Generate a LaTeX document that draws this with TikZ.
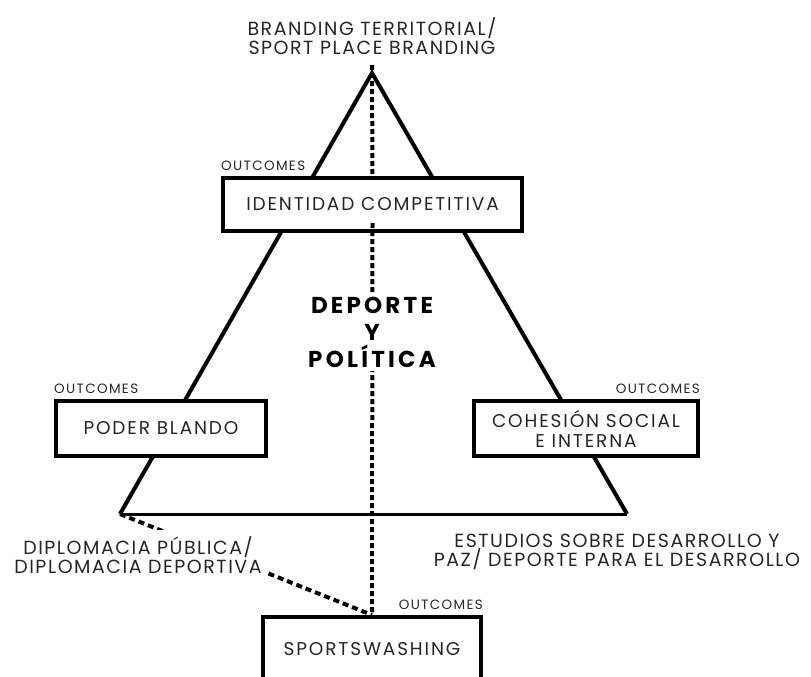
\documentclass[tikz,border=0pt]{standalone}
\usepackage{fontspec}
\setmainfont{Poppins}
\newfontfamily\wideface[LetterSpace=8]{Poppins}
\newfontfamily\boxface[LetterSpace=10]{Poppins}
\newfontfamily\widebold[LetterSpace=14]{Poppins Bold}
\usetikzlibrary{positioning}
\tikzset{
    outbox/.style={
        draw,
        line width=4pt,
        fill=white,
        align=center,
        inner sep=2pt,
        text=black!85,
        font=\boxface\fontsize{18.5}{20}\selectfont
    },
    outlabel/.style={
        inner sep=0pt,
        text=black!85,
        font=\boxface\fontsize{13.5}{14}\selectfont
    },
    field/.style={
        align=center,
        inner sep=2pt,
        text=black!85,
        font=\wideface\fontsize{19}{19}\selectfont
    },
    dotline/.style={
        line width=4pt,
        dash pattern=on 5pt off 3pt
    }
}

\begin{document}
\begin{tikzpicture}[x=1pt, y=-1pt]
  \useasboundingbox (0,0) rectangle (811,677);
  \clip (0,0) rectangle (811,677);

  % triangle corners
  \coordinate (apex) at (372,73);
  \coordinate (left) at (120,514);
  \coordinate (right) at (627,514);

  % triangle
  \draw[line width=4pt, line join=miter] (left) -- (apex) -- (right);
  \draw[line width=3pt] (left) -- (right);

  % outcome boxes
  \node[outbox, minimum width=299pt, minimum height=53pt] (identidad) at (372.5,204.5) {IDENTIDAD COMPETITIVA};
  \node[outbox, minimum width=210pt, minimum height=55pt] (poder) at (161,428.5) {PODER BLANDO};
  \node[outbox, minimum width=224pt, minimum height=55pt] (cohesion) at (586,428.5) {COHESIÓN SOCIAL\\E INTERNA};
  \node[outbox, minimum width=218pt, minimum height=64pt] (sports) at (372,649) {SPORTSWASHING};

  % dotted lines
  \draw[dotline] ([yshift=8pt]apex) -- (identidad.north);
  \draw[dotline] ([yshift=10pt]identidad.south) -- (sports.north);
  \draw[dotline, dash pattern=on 6pt off 4pt] (left) -- (sports.north);

  % labels
  \node[fill=white, inner sep=4pt, align=center, font=\widebold\fontsize{23}{27}\selectfont] (tema) at (372,332) {DEPORTE\\Y\\POLÍTICA};
  \node[field] (branding) at (372,36) {BRANDING TERRITORIAL/\\SPORT PLACE BRANDING};
  \node[field, fill=white, inner sep=6pt] (diplomacia) at (138,555) {DIPLOMACIA PÚBLICA/\\DIPLOMACIA DEPORTIVA};
  \node[field] (desarrollo) at (617,552) {ESTUDIOS SOBRE DESARROLLO Y\\PAZ/ DEPORTE PARA EL DESARROLLO};

  \node[outlabel, anchor=south west] at ([yshift=5pt]identidad.north west) {OUTCOMES};
  \node[outlabel, anchor=south west] at ([yshift=5pt]poder.north west) {OUTCOMES};
  \node[outlabel, anchor=south east] at ([yshift=5pt]cohesion.north east) {OUTCOMES};
  \node[outlabel, anchor=south east] at ([yshift=5pt]sports.north east) {OUTCOMES};
\end{tikzpicture}
\end{document}
